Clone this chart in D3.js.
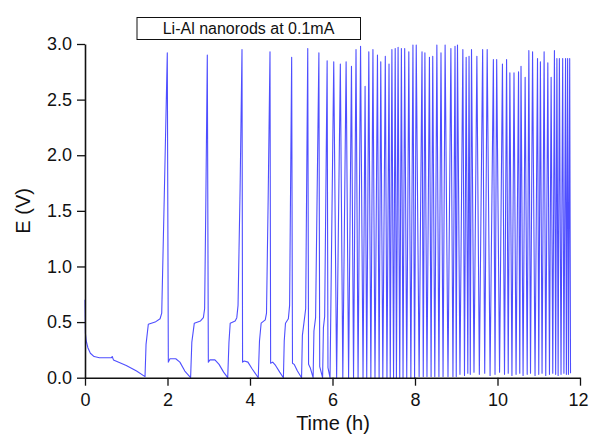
<!DOCTYPE html>
<html>
<head>
<meta charset="utf-8">
<script src="https://cdn.jsdelivr.net/npm/d3@7"></script>
<style>
  body { margin: 0; background: #fff; }
  svg { display: block; font-family: "Liberation Sans", Arial, sans-serif; }
</style>
</head>
<body>
<svg id="chart"></svg>
<script>
// Rest period and first eight cycles, traced point by point (time h, E V)
const earlyT = [0.00, 0.01, 0.03, 0.07, 0.13, 0.22, 0.35, 0.64, 0.66, 0.69, 1.00, 1.25, 1.455,
  1.48, 1.535, 1.70, 1.82, 1.86, 1.92, 1.995,
  2.02, 2.06, 2.20, 2.30, 2.42, 2.56,
  2.59, 2.65, 2.80, 2.87, 2.90, 2.93, 2.965,
  2.99, 3.03, 3.15, 3.25, 3.36, 3.46,
  3.49, 3.52, 3.64, 3.68, 3.71, 3.76, 3.806,
  3.82, 3.86, 3.95, 4.05, 4.20,
  4.23, 4.27, 4.37, 4.40, 4.44, 4.485,
  4.50, 4.55, 4.62, 4.72, 4.81,
  4.83, 4.86, 4.93, 4.96, 5.01,
  5.03, 5.07, 5.15, 5.25,
  5.27, 5.31, 5.35, 5.40,
  5.42, 5.46, 5.53,
  5.55, 5.59, 5.67,
  5.69, 5.76,
  5.78, 5.81, 5.87,
  5.89, 5.94];
const earlyV = [0.70, 0.40, 0.33, 0.27, 0.22, 0.19, 0.18, 0.18, 0.19, 0.16, 0.11, 0.06, 0.01,
  0.30, 0.48, 0.50, 0.53, 0.58, 1.60, 2.92,
  0.14, 0.17, 0.17, 0.14, 0.06, 0.00,
  0.32, 0.49, 0.51, 0.54, 0.62, 1.60, 2.90,
  0.14, 0.16, 0.16, 0.12, 0.05, 0.00,
  0.32, 0.49, 0.51, 0.54, 0.65, 1.70, 2.95,
  0.14, 0.15, 0.14, 0.08, 0.00,
  0.33, 0.49, 0.52, 0.58, 1.60, 2.93,
  0.13, 0.14, 0.11, 0.05, 0.00,
  0.33, 0.49, 0.53, 0.65, 2.88,
  0.13, 0.12, 0.06, 0.00,
  0.38, 0.50, 0.62, 2.96,
  0.12, 0.09, 0.00,
  0.42, 0.54, 2.92,
  0.10, 0.00,
  0.45, 0.55, 2.85,
  0.09, 0.00];

// Later, fast cycles: charge peak, then discharge end
const peakT = [6.03, 6.19, 6.33, 6.46, 6.57, 6.68, 6.79, 6.88, 6.98, 7.09,
  7.17, 7.28, 7.37, 7.44, 7.52, 7.59, 7.67, 7.75, 7.85, 7.95,
  8.03, 8.17, 8.24, 8.35, 8.43, 8.53, 8.63, 8.73, 8.87, 8.97,
  9.03, 9.16, 9.24, 9.31, 9.37, 9.50, 9.64, 9.75, 9.90, 9.98,
  10.12, 10.22, 10.30, 10.40, 10.51, 10.57, 10.67, 10.76, 10.85, 10.97,
  11.04, 11.13, 11.22, 11.30, 11.38, 11.44, 11.50, 11.58, 11.65, 11.70, 11.75];
const peakV = [2.84, 2.82, 2.84, 2.80, 2.95, 2.98, 2.62, 2.93, 2.95, 2.90,
  2.84, 2.89, 2.82, 2.95, 2.96, 2.97, 2.96, 2.96, 2.93, 2.99,
  2.99, 2.93, 2.92, 2.88, 2.89, 2.99, 2.92, 2.99, 2.96, 2.98,
  2.99, 2.95, 2.88, 2.89, 2.95, 2.89, 2.95, 2.95, 2.86, 2.86,
  2.82, 2.86, 2.74, 2.74, 2.75, 2.80, 2.70, 2.94, 2.93, 2.87,
  2.84, 2.93, 2.83, 2.70, 2.94, 2.87, 2.87, 2.87, 2.87, 2.87, 2.87];
const troughT = [6.10, 6.25, 6.39, 6.51, 6.62, 6.74, 6.83, 6.93, 7.03, 7.13,
  7.22, 7.32, 7.40, 7.48, 7.55, 7.63, 7.71, 7.80, 7.90, 7.99,
  8.10, 8.20, 8.29, 8.39, 8.48, 8.58, 8.68, 8.80, 8.92, 9.00,
  9.09, 9.20, 9.28, 9.34, 9.43, 9.56, 9.69, 9.82, 9.94, 10.05,
  10.17, 10.26, 10.35, 10.45, 10.54, 10.62, 10.72, 10.80, 10.91, 11.00,
  11.08, 11.17, 11.26, 11.34, 11.41, 11.47, 11.54, 11.61, 11.67, 11.72, 11.77];
const troughV = [0.00, 0.00, 0.00, 0.00, 0.00, 0.00, 0.00, 0.00, 0.00, 0.00,
  0.00, 0.00, 0.00, 0.00, 0.00, 0.00, 0.00, 0.00, 0.00, 0.00,
  0.01, 0.01, 0.01, 0.01, 0.01, 0.01, 0.01, 0.01, 0.01, 0.01,
  0.03, 0.02, 0.04, 0.03, 0.05, 0.03, 0.04, 0.02, 0.03, 0.05,
  0.03, 0.04, 0.02, 0.03, 0.04, 0.02, 0.03, 0.04, 0.02, 0.03,
  0.04, 0.02, 0.03, 0.04, 0.03, 0.02, 0.03, 0.04, 0.03, 0.03, 0.04];

const xMajor = [0, 2, 4, 6, 8, 10, 12];
const xMinor = [1, 3, 5, 7, 9, 11];
const yMajor = [0, 0.5, 1.0, 1.5, 2.0, 2.5, 3.0];
const yMinor = [0.25, 0.75, 1.25, 1.75, 2.25, 2.75];
const title = "Li-Al nanorods at 0.1mA";

const width = 589, height = 436;
const svg = d3.select("#chart").attr("width", width).attr("height", height);

const x = d3.scaleLinear().domain([0, 12]).range([85, 580]);
const y = d3.scaleLinear().domain([0, 3]).range([377.7, 44]);

// build the trace
const pts = earlyT.map((t, i) => [t, earlyV[i]]);
peakT.forEach((t, i) => {
  pts.push([t, peakV[i]]);
  pts.push([troughT[i], troughV[i]]);
});

const line = d3.line().x(d => x(d[0])).y(d => y(d[1]));
svg.append("path")
  .datum(pts)
  .attr("d", line)
  .attr("fill", "none")
  .attr("stroke", "#2222ff")
  .attr("stroke-width", 1.1)
  .attr("stroke-opacity", 0.8)
  .attr("stroke-linejoin", "round");

// axes
const fmt = d3.format(".1f");
const gx = svg.append("g").attr("transform", `translate(0,${y(0)})`);
gx.call(d3.axisBottom(x).tickValues(xMinor).tickSize(5).tickSizeOuter(0).tickFormat(""));
gx.call(d3.axisBottom(x).tickValues(xMajor).tickSize(8).tickSizeOuter(0).tickFormat(d3.format("d")));

const gy = svg.append("g").attr("transform", `translate(${x(0)},0)`);
gy.call(d3.axisLeft(y).tickValues(yMinor).tickSize(5).tickSizeOuter(0).tickFormat(""));
gy.call(d3.axisLeft(y).tickValues(yMajor).tickSize(8).tickSizeOuter(0).tickFormat(fmt));

svg.selectAll(".domain").attr("stroke", "#111").attr("stroke-width", 1.6);
svg.selectAll(".tick line").attr("stroke", "#111").attr("stroke-width", 1.3);
svg.selectAll(".tick text").attr("font-size", 18).attr("fill", "#111")
  .attr("font-family", "Liberation Sans, Arial, sans-serif");
gx.selectAll(".tick text").attr("dy", "0.95em");
// keep the last label inside the frame
gx.selectAll(".tick text").filter(d => d === 12).attr("dx", -2);
gy.selectAll(".tick text").attr("x", -13);

// axis titles
svg.append("text")
  .attr("x", 333).attr("y", 430)
  .attr("text-anchor", "middle")
  .attr("font-size", 20).attr("fill", "#111")
  .text("Time (h)");
svg.append("text")
  .attr("transform", `translate(30,${(y(0) + y(3)) / 2}) rotate(-90)`)
  .attr("text-anchor", "middle")
  .attr("font-size", 20).attr("fill", "#111")
  .text("E (V)");

// title box
svg.append("rect")
  .attr("x", 137).attr("y", 17.5).attr("width", 223.5).attr("height", 22)
  .attr("fill", "#fff").attr("stroke", "#111").attr("stroke-width", 1);
svg.append("text")
  .attr("x", 248.5).attr("y", 34)
  .attr("text-anchor", "middle")
  .attr("font-size", 16).attr("fill", "#111")
  .text(title);
</script>
</body>
</html>
